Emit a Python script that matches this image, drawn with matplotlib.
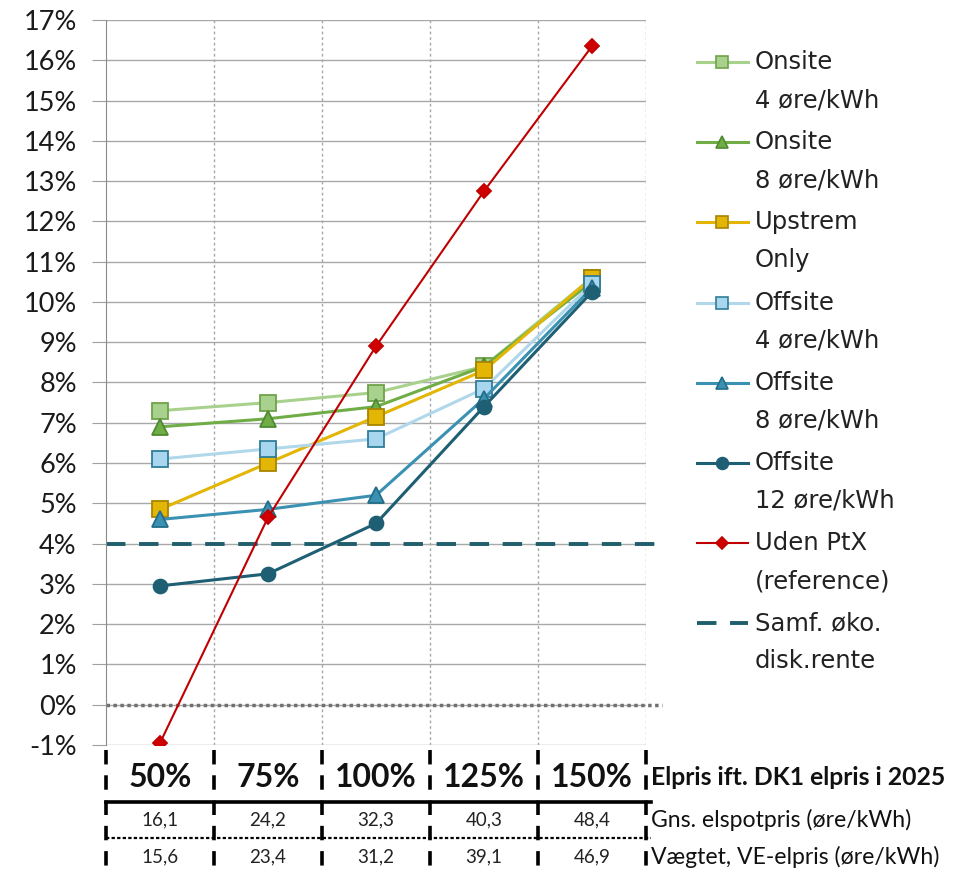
import matplotlib.pyplot as plt
from matplotlib.lines import Line2D

# Elpris relative to DK1 2025 and the two price rows shown under the axis
categories = ["50%", "75%", "100%", "125%", "150%"]
spot_price = ["16,1", "24,2", "32,3", "40,3", "48,4"]
weighted_price = ["15,6", "23,4", "31,2", "39,1", "46,9"]

onsite_4 = [7.3, 7.5, 7.75, 8.4, 10.6]
onsite_8 = [6.9, 7.1, 7.4, 8.4, 10.5]
upstream_only = [4.85, 6.0, 7.15, 8.3, 10.6]
offsite_4 = [6.1, 6.35, 6.6, 7.85, 10.45]
offsite_8 = [4.6, 4.85, 5.2, 7.6, 10.35]
offsite_12 = [2.95, 3.25, 4.5, 7.4, 10.25]
uden_ptx = [-0.95, 4.65, 8.9, 12.75, 16.35]
disk_rente = 4.0

series = [
    ("Onsite", "4 øre/kWh", onsite_4, "#A9D18E", "s", "#A9D18E", "#6FA24A", 11, 2.2),
    ("Onsite", "8 øre/kWh", onsite_8, "#70AD47", "^", "#70AD47", "#4E8A30", 11, 2.2),
    ("Upstrem", "Only", upstream_only, "#E3B505", "s", "#E3B505", "#A88500", 11, 2.2),
    ("Offsite", "4 øre/kWh", offsite_4, "#B0D8EA", "s", "#A8D6EE", "#2F7E98", 11, 2.2),
    ("Offsite", "8 øre/kWh", offsite_8, "#3B91B2", "^", "#3B91B2", "#226D88", 11, 2.2),
    ("Offsite", "12 øre/kWh", offsite_12, "#1E5F74", "o", "#1E5F74", "#1E5F74", 10, 2.2),
    ("Uden PtX", "(reference)", uden_ptx, "#C00000", "D", "#D00000", "#C00000", 7.5, 1.5),
]

W, H = 957, 876
fig = plt.figure(figsize=(W / 100, H / 100), dpi=100)
ax = fig.add_axes([106 / W, 1 - 745 / H, 540 / W, 725 / H])

x = list(range(len(categories)))
for name, sub, vals, col, mk, mfc, mec, ms, lw in series:
    ax.plot(x, vals, color=col, lw=lw, marker=mk, ms=ms, mfc=mfc, mec=mec,
            mew=1.3, zorder=3)
ax.axhline(disk_rente, color="#1E5F6B", lw=2.8, dashes=(5, 3.5), zorder=2,
           clip_on=False, xmax=1.03)
ax.axhline(0, color="#707070", lw=2.5, ls=(0, (1, 1)), zorder=2,
           clip_on=False, xmax=1.03)

ax.set_xlim(-0.5, len(categories) - 0.5)
ax.set_ylim(-1, 17)
ax.set_yticks(range(-1, 18))
ax.set_yticklabels([f"{v}%" for v in range(-1, 18)], fontsize=19.5, family="Lato")
ax.set_xticks([])
ax.set_xticks([i + 0.5 for i in range(len(categories))], minor=True)
ax.tick_params(axis="x", which="minor", length=0)
ax.tick_params(axis="y", length=10, color="#A0A0A0", pad=11, labelcolor="#1A1A1A")
ax.grid(axis="y", color="#A8A8A8", lw=1)
ax.grid(axis="x", which="minor", color="#A8A8A8", lw=1, ls=(0, (2, 2)))
ax.set_axisbelow(True)
for s in ["top", "right", "bottom"]:
    ax.spines[s].set_visible(False)
ax.spines["left"].set_color("#8A8A8A")

# table below the plot: x in data units, y in axes units
tr = ax.get_xaxis_transform()
for i in range(len(categories)):
    ax.text(i, -0.0455, categories[i], transform=tr, ha="center", va="center",
            fontsize=23, fontweight="bold", family="Lato", color="#111111")
    ax.text(i, -0.1034, spot_price[i], transform=tr, ha="center", va="center",
            fontsize=13.5, family="Lato", color="#222222")
    ax.text(i, -0.1545, weighted_price[i], transform=tr, ha="center", va="center",
            fontsize=13.5, family="Lato", color="#222222")
for i in range(len(categories) + 1):
    ax.plot([i - 0.5, i - 0.5], [-0.007, -0.185], transform=tr, color="black",
            lw=2.6, dashes=(4, 3), clip_on=False)
ax.plot([-0.5, len(categories) - 0.45], [-0.0786, -0.0786], transform=tr,
        color="black", lw=2.6, clip_on=False)
ax.plot([-0.5, len(categories) - 0.45], [-0.1283, -0.1283], transform=tr,
        color="black", lw=1.6, ls=(0, (1.5, 1)), clip_on=False)

row_labels = [("Elpris ift. DK1 elpris i 2025", -0.0455, "bold", 17.8),
              ("Gns. elspotpris (øre/kWh)", -0.1034, "normal", 16.6),
              ("Vægtet, VE-elpris (øre/kWh)", -0.1545, "normal", 16.6)]
for txt, yy, wt, fs in row_labels:
    ax.text(1.009, yy, txt, transform=ax.transAxes, ha="left", va="center",
            fontsize=fs, fontweight=wt, family="Lato", color="#111111")

# legend, handle aligned with the first line of each label
def fy(p):
    return 1 - p / H

for k, (name, sub, vals, col, mk, mfc, mec, ms, lw) in enumerate(series):
    yp = 62 + 80.2 * k
    fig.add_artist(Line2D([697 / W, 748 / W], [fy(yp), fy(yp)], color=col, lw=lw,
                          transform=fig.transFigure))
    fig.add_artist(Line2D([722 / W], [fy(yp)], marker=mk, ms=ms * 0.85, mfc=mfc,
                          mec=mec, mew=1.2, transform=fig.transFigure))
    fig.text(755 / W, fy(yp), name, ha="left", va="center", fontsize=17.5,
             color="#222222")
    fig.text(755 / W, fy(yp + 38), sub, ha="left", va="center", fontsize=17.5,
             color="#222222")

yp = 62 + 80.2 * len(series)
fig.add_artist(Line2D([697 / W, 748 / W], [fy(yp), fy(yp)], color="#1E5F6B",
                      lw=2.8, dashes=(5, 3.5), transform=fig.transFigure))
fig.text(755 / W, fy(yp), "Samf. øko.", ha="left", va="center", fontsize=17.5,
         color="#222222")
fig.text(755 / W, fy(yp + 38), "disk.rente", ha="left", va="center", fontsize=17.5,
         color="#222222")

fig.savefig("out.png", dpi=100)
